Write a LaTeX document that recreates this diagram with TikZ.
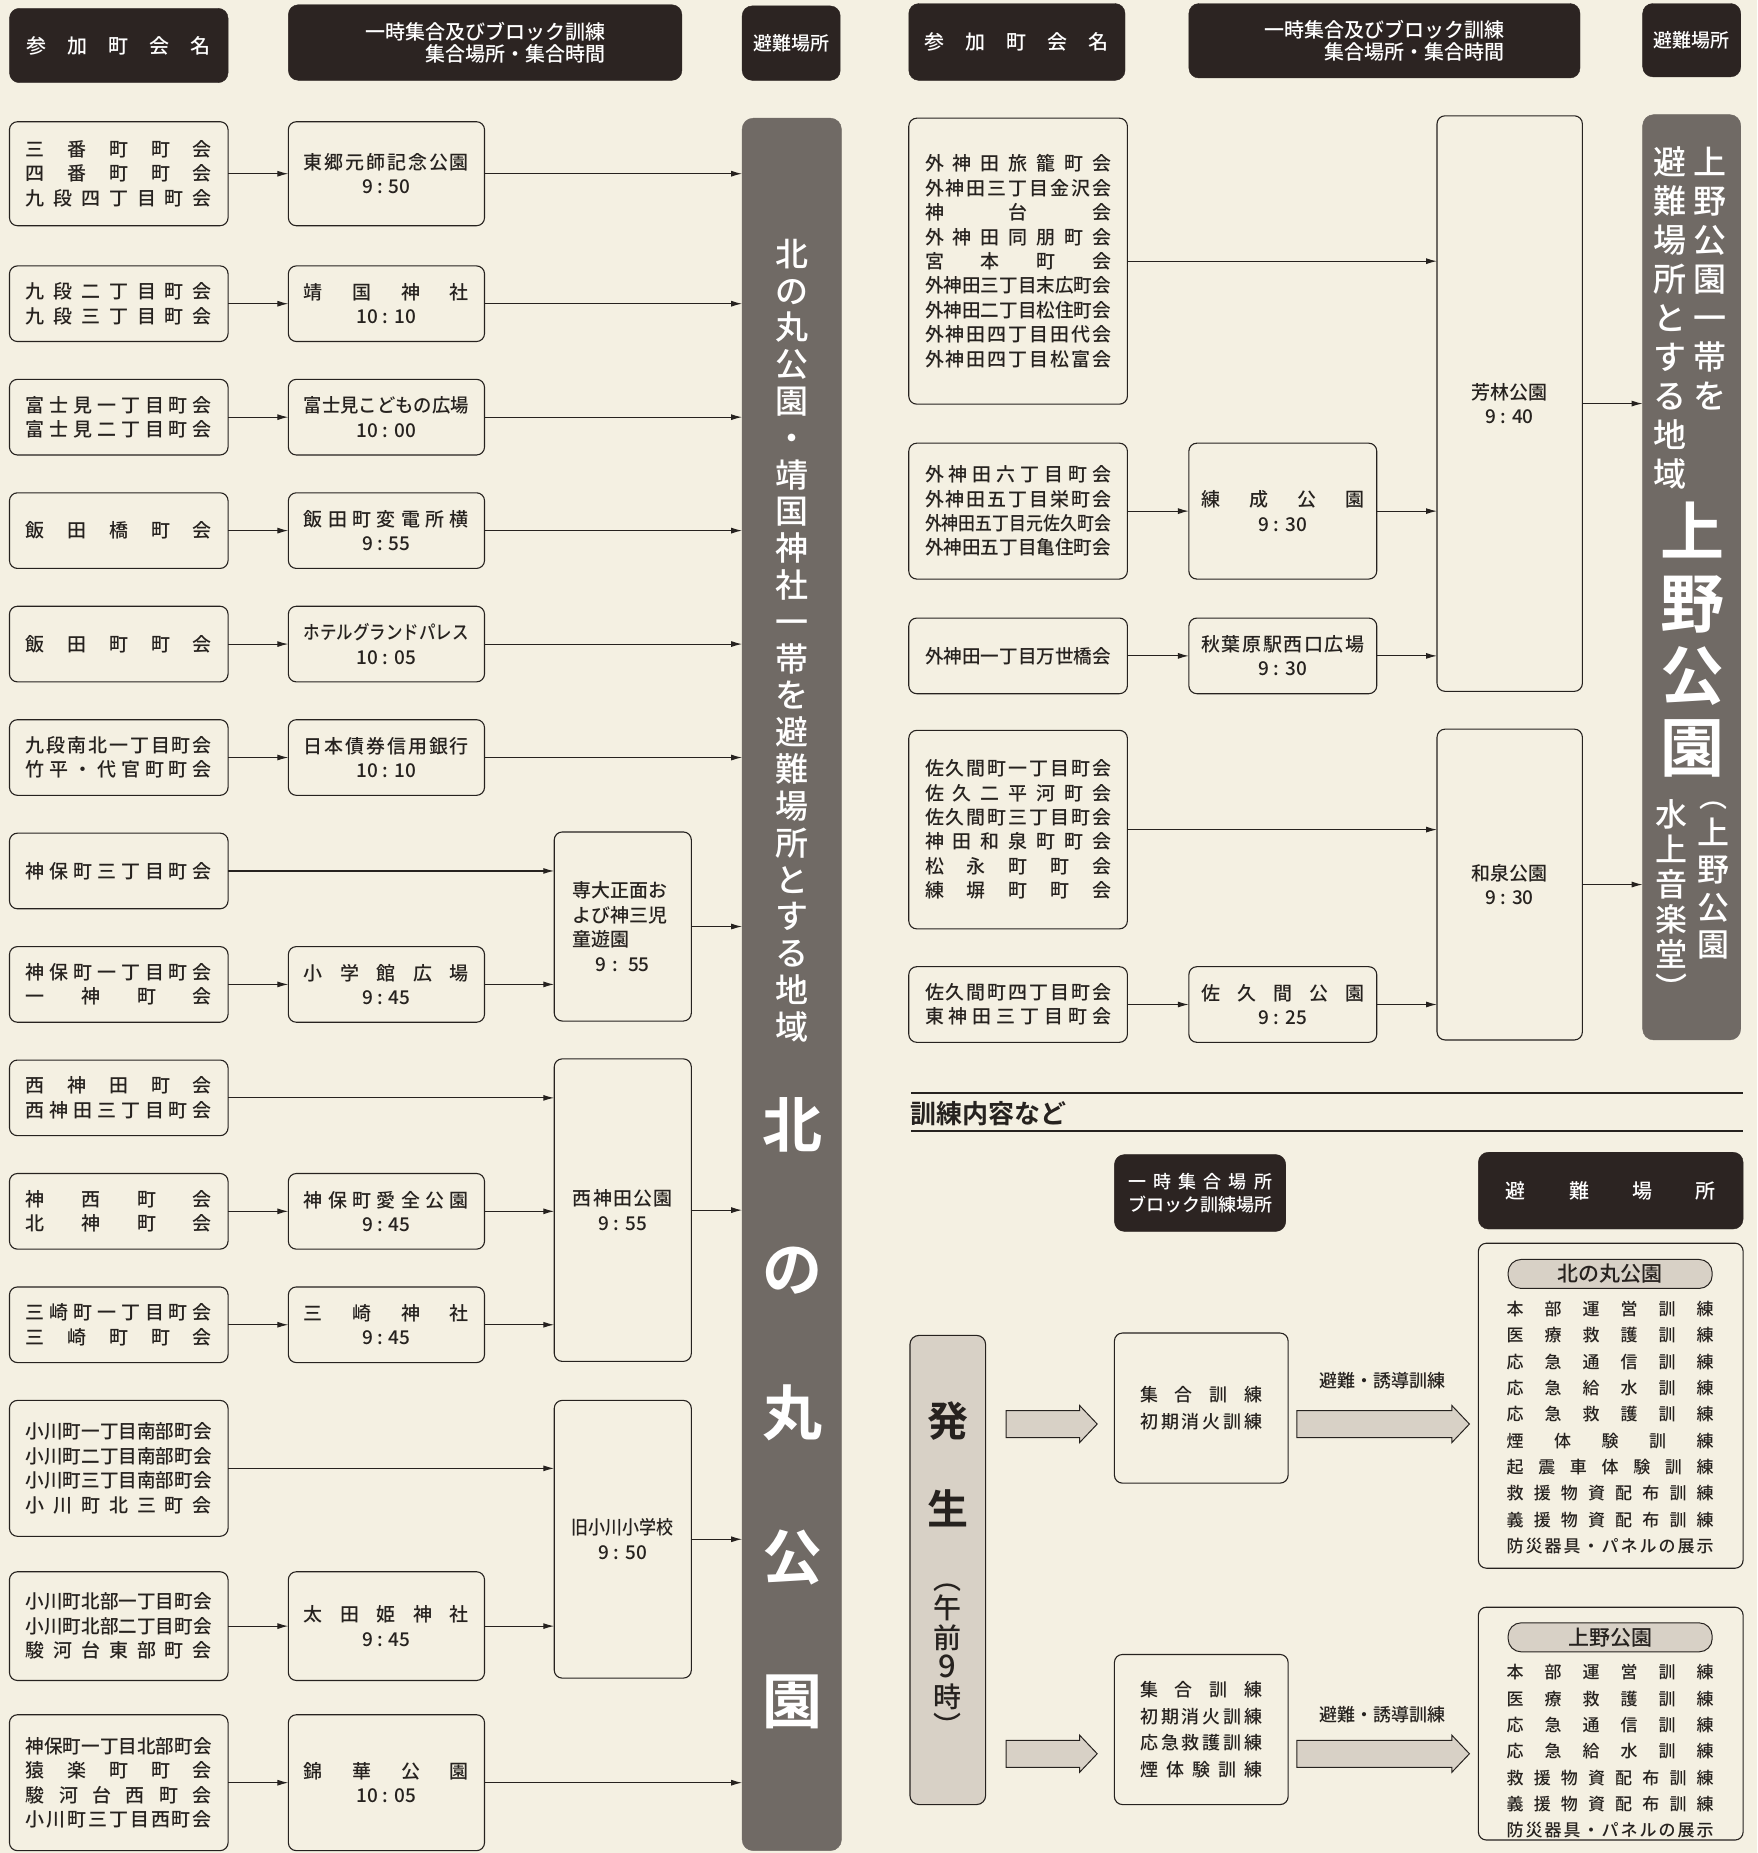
\documentclass[tikz,border=0pt]{standalone}
\usepackage{fontspec}
\usepackage{graphicx}
\setmainfont{Noto Sans CJK JP}[UprightFont=* Medium,BoldFont=* Bold]
\usetikzlibrary{arrows.meta,shapes.arrows}
\definecolor{paper}{RGB}{244,240,226}
\definecolor{ink}{RGB}{38,34,31}
\definecolor{hdr}{RGB}{44,36,34}
\definecolor{barc}{RGB}{112,106,101}
\definecolor{lite}{RGB}{216,209,198}
\newcommand\fs[2]{\fontsize{#1}{#2}\selectfont}
\makeatletter
\def\distaux#1#2{#1\ifx\relax#2\expandafter\@gobble\else\hfill\expandafter\@firstofone\fi{\distaux#2}}
\makeatother
\newsavebox\distbox
\newlength\distw
\newlength\distn
\newcommand\dist[2]{\setlength\distw{#1}\sbox\distbox{#2}\setlength\distn{\wd\distbox}%
  \ifdim\distn>\distw\pgfmathsetmacro\distr{\distw/\distn}\scalebox{\distr}[1]{\usebox\distbox}%
  \else\makebox[\distw][s]{\distaux#2\relax}\fi}
\newcommand\lc[1]{\dist{186pt}{#1}}
\newcommand\mc[1]{\dist{165pt}{#1}}
\newcommand\rmc[1]{\dist{163pt}{#1}}
\newcommand\tc[1]{\dist{122pt}{#1}}
\newcommand\lst[1]{\dist{207pt}{#1}}
\newcommand\bxn[7]{\node[#1,minimum width={(#5-#3)*1.1816pt},minimum height={(#6-#4)*1.1816pt}] (#2) at ({(#3+#5)/2},{(#4+#6)/2}) {#7};}
\tikzset{
 bx/.style={draw=ink,line width=1.1pt,rounded corners=8pt,inner sep=0pt,outer sep=0pt,text=ink,align=center,font=\fs{19}{24.4}},
 hd/.style={fill=hdr,draw=hdr,rounded corners=10pt,inner sep=0pt,text=white,align=center,font=\fs{20}{22.5}},
 tall/.style={fill=barc,draw=barc,rounded corners=11pt,inner sep=0pt,outer sep=0pt},
 occ/.style={fill=lite,draw=ink,line width=1.1pt,rounded corners=9pt,inner sep=0pt},
 vt/.style={inner sep=0pt,align=center,text=white},
 arr/.style={draw=ink,line width=1.1pt,-{Latex[length=11pt,width=6pt]}},
 barrow/.style={single arrow,draw=ink,fill=lite,line width=1pt,single arrow head extend=5pt,single arrow tip angle=93,inner sep=0pt,anchor=tail},
 pill/.style={fill=lite,draw=ink,line width=1pt,rounded corners=13pt,inner sep=0pt,minimum width=204pt,minimum height=29pt,font=\fs{21}{24},text=ink},
}
\begin{document}
\begin{tikzpicture}[x=1.1816pt,y=-1.1816pt]
\useasboundingbox (0,0) rectangle (1487,1568);
\fill[paper] (0,0) rectangle (1487,1568);
% ---------- left headers
\bxn{hd}{lh1}{8}{7}{193}{70}{\dist{184pt}{参加町会名}}
\bxn{hd,align=right}{lh2}{244}{4}{577}{68}{一時集合及びブロック訓練\\集合場所・集合時間}
\bxn{hd,font=\fs{19}{22}}{lh3}{628}{5}{711}{68}{避難場所}
% ---------- left bar
\bxn{tall}{kb}{628}{100}{712}{1566}{}
\node[vt,font=\fs{33}{36.8}] (kbt1) at (670.5,542) {北\\の\\丸\\公\\園\\・\\靖\\国\\神\\社\\一\\帯\\を\\避\\難\\場\\所\\と\\す\\る\\地\\域};
\node[vt,font=\fs{60}{144}\bfseries] (kbt2) at (670.5,1196) {北\\の\\丸\\公\\園};
% ---------- left column
\bxn{bx}{l1}{8}{103}{193}{191}{\lc{三番町町会}\\\lc{四番町町会}\\\lc{九段四丁目町会}}
\bxn{bx}{l2}{8}{225}{193}{289}{\lc{九段二丁目町会}\\\lc{九段三丁目町会}}
\bxn{bx}{l3}{8}{321}{193}{385}{\lc{富士見一丁目町会}\\\lc{富士見二丁目町会}}
\bxn{bx}{l4}{8}{417}{193}{481}{\lc{飯田橋町会}}
\bxn{bx}{l5}{8}{513}{193}{577}{\lc{飯田町町会}}
\bxn{bx}{l6}{8}{609}{193}{673}{\lc{九段南北一丁目町会}\\\lc{竹平・代官町町会}}
\bxn{bx}{l7}{8}{705}{193}{769}{\lc{神保町三丁目町会}}
\bxn{bx}{l8}{8}{801}{193}{865}{\lc{神保町一丁目町会}\\\lc{一神町会}}
\bxn{bx}{l9}{8}{897}{193}{961}{\lc{西神田町会}\\\lc{西神田三丁目町会}}
\bxn{bx}{l10}{8}{993}{193}{1057}{\lc{神西町会}\\\lc{北神町会}}
\bxn{bx}{l11}{8}{1089}{193}{1153}{\lc{三崎町一丁目町会}\\\lc{三崎町町会}}
\bxn{bx}{l12}{8}{1185}{193}{1300}{\lc{小川町一丁目南部町会}\\\lc{小川町二丁目南部町会}\\\lc{小川町三丁目南部町会}\\\lc{小川町北三町会}}
\bxn{bx}{l13}{8}{1330}{193}{1422}{\lc{小川町北部一丁目町会}\\\lc{小川町北部二丁目町会}\\\lc{駿河台東部町会}}
\bxn{bx}{l14}{8}{1451}{193}{1566}{\lc{神保町一丁目北部町会}\\\lc{猿楽町町会}\\\lc{駿河台西町会}\\\lc{小川町三丁目西町会}}
% ---------- left middle column
\bxn{bx}{m1}{244}{103}{410}{191}{\mc{東郷元師記念公園}\\9 : 50}
\bxn{bx}{m2}{244}{225}{410}{289}{\mc{靖国神社}\\10 : 10}
\bxn{bx}{m3}{244}{321}{410}{385}{\mc{富士見こどもの広場}\\10 : 00}
\bxn{bx}{m4}{244}{417}{410}{481}{\mc{飯田町変電所横}\\9 : 55}
\bxn{bx}{m5}{244}{513}{410}{577}{\mc{ホテルグランドパレス}\\10 : 05}
\bxn{bx}{m6}{244}{609}{410}{673}{\mc{日本債券信用銀行}\\10 : 10}
\bxn{bx}{m8}{244}{801}{410}{865}{\mc{小学館広場}\\9 : 45}
\bxn{bx}{m10}{244}{993}{410}{1057}{\mc{神保町愛全公園}\\9 : 45}
\bxn{bx}{m11}{244}{1089}{410}{1153}{\mc{三崎神社}\\9 : 45}
\bxn{bx}{m13}{244}{1330}{410}{1422}{\mc{太田姫神社}\\9 : 45}
\bxn{bx}{m14}{244}{1451}{410}{1566}{\mc{錦華公園}\\10 : 05}
% ---------- left gathering column
\bxn{bx,align=left,text width=100pt}{s1}{469}{704}{585}{864}{専大正面お\\よび神三児\\童遊園\\\makebox[100pt]{9 : 55}}
\bxn{bx}{s2}{469}{896}{585}{1152}{\dist{100pt}{西神田公園}\\9 : 55}
\bxn{bx}{s3}{469}{1185}{585}{1420}{\dist{102pt}{旧小川小学校}\\9 : 50}
% ---------- left connectors
\foreach \i in {1,2,3,4,5,6}{\draw[arr] (l\i) -- (m\i); \draw[arr] (m\i) -- (m\i -| kb.west);}
\draw[arr] (l7) -- (l7 -| s1.west);
\draw[arr] (l8) -- (m8);
\draw[arr] (m8) -- (m8 -| s1.west);
\draw[arr] (s1) -- (s1 -| kb.west);
\draw[arr] (l9) -- (l9 -| s2.west);
\draw[arr] (l10) -- (m10);
\draw[arr] (m10) -- (m10 -| s2.west);
\draw[arr] (l11) -- (m11);
\draw[arr] (m11) -- (m11 -| s2.west);
\draw[arr] (s2) -- (s2 -| kb.west);
\draw[arr] (l12) -- (l12 -| s3.west);
\draw[arr] (l13) -- (m13);
\draw[arr] (m13) -- (m13 -| s3.west);
\draw[arr] (s3) -- (s3 -| kb.west);
\draw[arr] (l14) -- (m14);
\draw[arr] (m14) -- (m14 -| kb.west);
% ---------- right headers
\bxn{hd}{rh1}{769}{3}{952}{68}{\dist{184pt}{参加町会名}}
\bxn{hd,align=right}{rh2}{1006}{3}{1337}{66}{一時集合及びブロック訓練\\集合場所・集合時間}
\bxn{hd,font=\fs{19}{22}}{rh3}{1390}{3}{1473}{65}{避難場所}
% ---------- right bar
\bxn{tall}{ub}{1390}{97}{1473}{880}{}
\node[vt,font=\fs{33}{39},anchor=north] (ubt1) at (1447,124) {上\\野\\公\\園\\一\\帯\\を};
\node[vt,font=\fs{33}{39},anchor=north] (ubt2) at (1413,124) {避\\難\\場\\所\\と\\す\\る\\地\\域};
\node[vt,font=\fs{64}{72}\bfseries] (ubt3) at (1432,541) {上\\野\\公\\園};
\node[vt,font=\fs{28}{28}] (ubp1) at (1450,682) {︵};
\node[vt,font=\fs{32}{37.5}] (ubt4) at (1450,752) {上\\野\\公\\園};
\node[vt,font=\fs{32}{35}] (ubt5) at (1414,748) {水\\上\\音\\楽\\堂};
\node[vt,font=\fs{32}{32}] (ubp2) at (1414,835) {︶};
% ---------- right columns
\bxn{bx}{ra}{769}{100}{954}{342}{\lc{外神田旅籠町会}\\\lc{外神田三丁目金沢会}\\\lc{神台会}\\\lc{外神田同朋町会}\\\lc{宮本町会}\\\lc{外神田三丁目末広町会}\\\lc{外神田二丁目松住町会}\\\lc{外神田四丁目田代会}\\\lc{外神田四丁目松富会}}
\bxn{bx}{rb}{769}{375}{954}{490}{\lc{外神田六丁目町会}\\\lc{外神田五丁目栄町会}\\\lc{外神田五丁目元佐久町会}\\\lc{外神田五丁目亀住町会}}
\bxn{bx}{rc}{769}{523}{954}{587}{\lc{外神田一丁目万世橋会}}
\bxn{bx}{rd}{769}{618}{954}{786}{\lc{佐久間町一丁目町会}\\\lc{佐久二平河町会}\\\lc{佐久間町三丁目町会}\\\lc{神田和泉町町会}\\\lc{松永町町会}\\\lc{練塀町町会}}
\bxn{bx}{re}{769}{818}{954}{882}{\lc{佐久間町四丁目町会}\\\lc{東神田三丁目町会}}
\bxn{bx}{rbm}{1006}{375}{1165}{490}{\rmc{練成公園}\\9 : 30}
\bxn{bx}{rcm}{1006}{523}{1165}{587}{\rmc{秋葉原駅西口広場}\\9 : 30}
\bxn{bx}{rem}{1006}{818}{1165}{882}{\rmc{佐久間公園}\\9 : 25}
\bxn{bx}{yo}{1216}{98}{1339}{585}{\dist{76pt}{芳林公園}\\9 : 40}
\bxn{bx}{iz}{1216}{617}{1339}{880}{\dist{76pt}{和泉公園}\\9 : 30}
% ---------- right connectors
\draw[arr] (ra) -- (ra -| yo.west);
\draw[arr] (rb) -- (rbm);
\draw[arr] (rbm) -- (rbm -| yo.west);
\draw[arr] (rc) -- (rcm);
\draw[arr] (rcm) -- (rcm -| yo.west);
\draw[arr] (yo) -- (yo -| ub.west);
\draw[arr] (rd) -- (rd -| iz.west);
\draw[arr] (re) -- (rem);
\draw[arr] (rem) -- (rem -| iz.west);
\draw[arr] (iz) -- (iz -| ub.west);
% ---------- training section
\draw[ink,line width=1.6pt] (771,925) -- (1475,925);
\draw[ink,line width=1.6pt] (771,957) -- (1475,957);
\node[anchor=west,inner sep=0pt,text=ink,font=\fs{26}{30}\bfseries] (ttl) at (770,942) {訓練内容など};
\bxn{hd,font=\fs{18}{23}}{bh1}{943}{977}{1088}{1042}{\dist{144pt}{一時集合場所}\\\dist{144pt}{ブロック訓練場所}}
\bxn{hd}{bh2}{1251}{975}{1475}{1040}{\dist{210pt}{避難場所}}
\bxn{occ}{hb}{770}{1130}{834}{1527}{}
\node[vt,text=ink,font=\fs{41}{88}\bfseries] (hbt1) at (802,1239) {発\\生};
\node[vt,text=ink,font=\fs{28}{29.5}] (hbt2) at (802,1405) {︵\\午\\前\\{\fontsize{31}{29.5}\selectfont 9}\\時\\︶};
\bxn{bx,font=\fs{18}{26.5}}{tf}{943}{1128}{1090}{1255}{\tc{集合訓練}\\\tc{初期消火訓練}}
\bxn{bx,font=\fs{18}{26.5}}{tg}{943}{1400}{1090}{1527}{\tc{集合訓練}\\\tc{初期消火訓練}\\\tc{応急救護訓練}\\\tc{煙体験訓練}}
\node[barrow,minimum height=91pt] (ba1) at (851,1205) {\rule{0pt}{26pt}};
\node[barrow,minimum height=172.5pt] (ba2) at (1097,1205) {\rule{0pt}{26pt}};
\node[barrow,minimum height=91pt] (ba3) at (851,1484) {\rule{0pt}{26pt}};
\node[barrow,minimum height=172.5pt] (ba4) at (1097,1484) {\rule{0pt}{26pt}};
\node[inner sep=0pt,text=ink,font=\fs{18}{20}] (bl1) at (1170,1168) {避難・誘導訓練};
\node[inner sep=0pt,text=ink,font=\fs{18}{20}] (bl2) at (1170,1451) {避難・誘導訓練};
\bxn{bx}{ph}{1251}{1052}{1475}{1327}{}
\node[pill] (ph1) at (1362.5,1078) {北の丸公園};
\node[inner sep=0pt,align=center,text=ink,font=\fs{17}{26.3}] (ph2) at (1362.5,1208) {\lst{本部運営訓練}\\\lst{医療救護訓練}\\\lst{応急通信訓練}\\\lst{応急給水訓練}\\\lst{応急救護訓練}\\\lst{煙体験訓練}\\\lst{起震車体験訓練}\\\lst{救援物資配布訓練}\\\lst{義援物資配布訓練}\\\lst{防災器具・パネルの展示}};
\bxn{bx}{pi}{1251}{1360}{1475}{1557}{}
\node[pill] (pi1) at (1362.5,1385.5) {上野公園};
\node[inner sep=0pt,align=center,text=ink,font=\fs{17}{26.3}] (pi2) at (1362.5,1482) {\lst{本部運営訓練}\\\lst{医療救護訓練}\\\lst{応急通信訓練}\\\lst{応急給水訓練}\\\lst{救援物資配布訓練}\\\lst{義援物資配布訓練}\\\lst{防災器具・パネルの展示}};
\end{tikzpicture}
\end{document}
